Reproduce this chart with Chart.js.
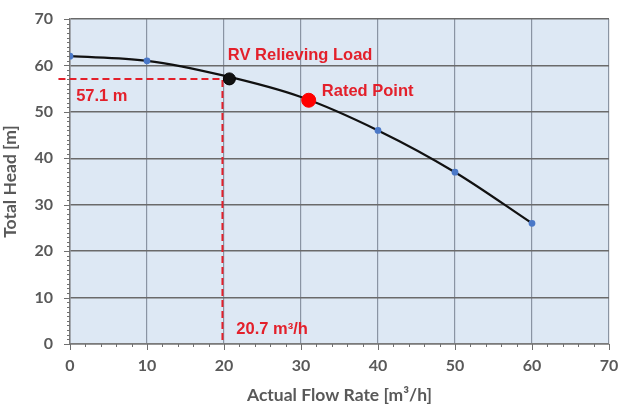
<!DOCTYPE html>
<html>
<head>
<meta charset="utf-8">
<script src="https://cdn.jsdelivr.net/npm/chart.js@4.4.1/dist/chart.umd.min.js"></script>
<style>
html,body{margin:0;padding:0;background:#fff;}
#wrap{width:618px;height:406px;}
</style>
</head>
<body>
<div id="wrap"><canvas id="c" width="618" height="406"></canvas></div>
<script>
// Pump curve data
const flowRates = [0, 10, 20, 30, 40, 50, 60];
const heads = [62, 61, 57.8, 53.2, 46, 37, 26];
const visiblePoint = [true, true, false, false, true, true, true];

const rvPoint = {x: 20.7, y: 57.1};
const ratedPoint = {x: 31, y: 52.5};
const guideX = 19.8;   // vertical dashed guide as drawn
const guideStartX = -1.5;

const xTicks = [0, 10, 20, 30, 40, 50, 60, 70];
const yTicks = [0, 10, 20, 30, 40, 50, 60, 70];

const labels = [
  {text: 'RV Relieving Load', x: 20.5, y: 62.2},
  {text: '57.1 m', x: 0.8, y: 53.4},
  {text: 'Rated Point', x: 32.7, y: 54.3},
  {text: '20.7 m³/h', x: 21.6, y: 3.2}
];

const RED = '#e3202b';
const TICKFONT = {family: 'Lato', size: 16, weight: 'bold'};
const TITLEFONT = {family: 'Lato', size: 17.5, weight: 'bold'};

const bgPlugin = {
  id: 'bg',
  beforeDraw(chart) {
    const {ctx, chartArea: a} = chart;
    ctx.save();
    ctx.fillStyle = '#dde8f4';
    ctx.fillRect(a.left, a.top, a.right - a.left, a.bottom - a.top);
    ctx.restore();
  },
  afterDraw(chart) {
    const {ctx, chartArea: a, scales} = chart;
    ctx.save();
    ctx.strokeStyle = '#6f6f6f';
    ctx.lineWidth = 1;
    for (let v = 0; v <= 70; v += 1) {
      const y = Math.round(scales.y.getPixelForValue(v)) + 0.5;
      ctx.beginPath();
      ctx.moveTo(a.left - (v % 10 === 0 ? 6 : 3), y);
      ctx.lineTo(a.left, y);
      ctx.stroke();
    }
    for (let v = 0; v <= 70; v += 2) {
      const x = Math.round(scales.x.getPixelForValue(v)) + 0.5;
      ctx.beginPath();
      ctx.moveTo(x, a.bottom);
      ctx.lineTo(x, a.bottom + (v % 10 === 0 ? 6 : 3));
      ctx.stroke();
    }
    ctx.fillStyle = RED;
    ctx.font = 'bold 16.5px "Liberation Sans", Arial, sans-serif';
    ctx.textBaseline = 'middle';
    ctx.textAlign = 'left';
    labels.forEach(l => {
      ctx.fillText(l.text, scales.x.getPixelForValue(l.x), scales.y.getPixelForValue(l.y));
    });
    ctx.restore();
  }
};

new Chart(document.getElementById('c'), {
  type: 'scatter',
  data: {
    datasets: [
      {
        label: 'RV point',
        data: [rvPoint],
        pointRadius: 6,
        pointBackgroundColor: '#111111',
        pointBorderColor: '#000000',
        pointBorderWidth: 1,
        order: 0
      },
      {
        label: 'Rated point',
        data: [ratedPoint],
        pointRadius: 7,
        pointBackgroundColor: '#ff0000',
        pointBorderColor: '#ff0000',
        order: 1
      },
      {
        label: 'Guide',
        data: [{x: guideStartX, y: rvPoint.y}, {x: guideX, y: rvPoint.y}, {x: guideX, y: 0}],
        showLine: true,
        borderColor: RED,
        borderWidth: 2,
        borderDash: [7, 4],
        pointRadius: 0,
        clip: false,
        order: 3
      },
      {
        label: 'Pump curve',
        data: flowRates.map((x, i) => ({x, y: heads[i]})),
        showLine: true,
        borderColor: '#111111',
        borderWidth: 2.2,
        cubicInterpolationMode: 'monotone',
        pointRadius: visiblePoint.map(v => v ? 2.3 : 0),
        pointBackgroundColor: '#4a78c8',
        pointBorderColor: '#4a78c8',
        order: 2
      }
    ]
  },
  options: {
    responsive: false,
    animation: false,
    events: [],
    layout: {padding: {top: 19, right: 9, left: 0, bottom: 0}},
    plugins: {legend: {display: false}, tooltip: {enabled: false}},
    scales: {
      x: {
        type: 'linear',
        min: 0, max: 70,
        afterBuildTicks(s) { s.ticks = xTicks.map(v => ({value: v})); },
        afterFit(s) { s.height = 62; s.paddingLeft = 0; s.paddingRight = 0; },
        grid: {color: '#8a94a3', lineWidth: 1.2, drawTicks: false},
        border: {color: '#7a7a7a', width: 1.5},
        ticks: {color: '#595959', font: TICKFONT, padding: 12, maxRotation: 0},
        title: {display: true, text: 'Actual Flow Rate [m³/h]', color: '#595959', font: TITLEFONT, padding: {top: 0, bottom: 0}}
      },
      y: {
        type: 'linear',
        min: 0, max: 70,
        afterBuildTicks(s) { s.ticks = yTicks.map(v => ({value: v})); },
        afterFit(s) { s.width = 70; s.paddingTop = 0; s.paddingBottom = 0; },
        grid: {color: '#6a6a6a', lineWidth: 1.5, drawTicks: false},
        border: {color: '#7a7a7a', width: 1.5},
        ticks: {color: '#595959', font: TICKFONT, padding: 17},
        title: {display: true, text: 'Total Head [m]', color: '#595959', font: TITLEFONT, padding: {top: 0, bottom: 2}}
      }
    }
  },
  plugins: [bgPlugin]
});
</script>
</body>
</html>
